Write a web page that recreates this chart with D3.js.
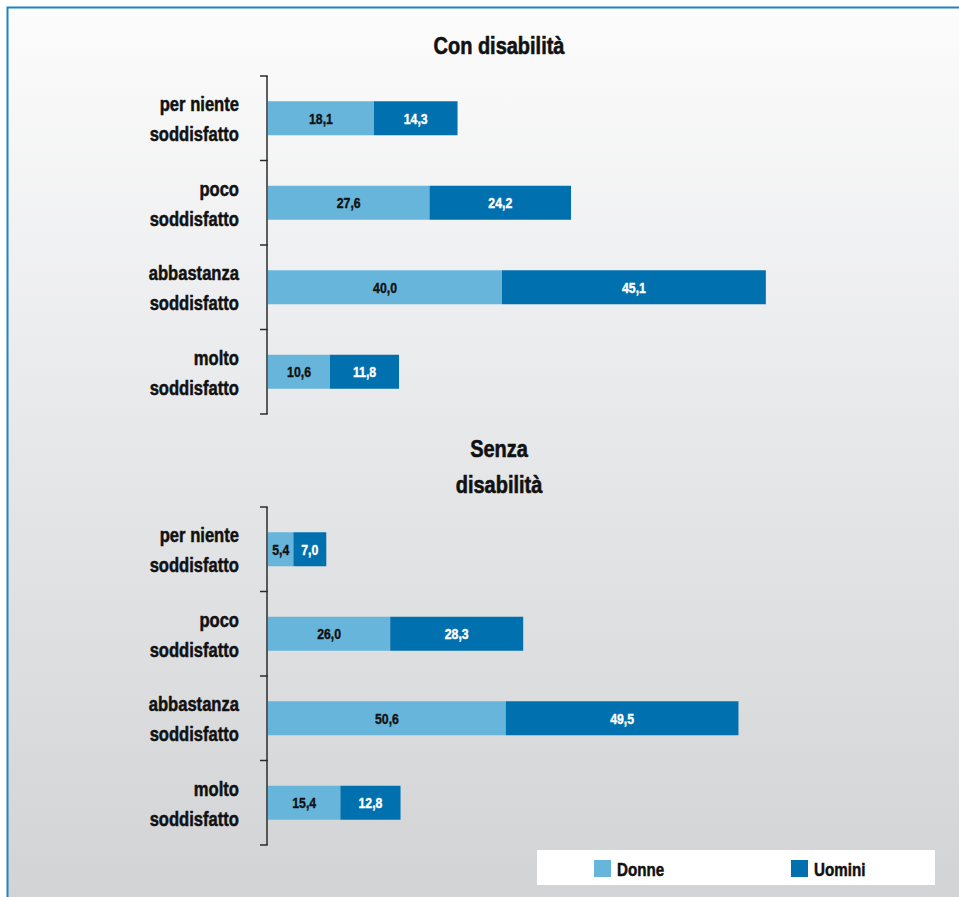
<!DOCTYPE html>
<html>
<head>
<meta charset="utf-8">
<script src="https://cdn.jsdelivr.net/npm/d3@7"></script>
<style>
  html, body { margin: 0; padding: 0; background: #fff; overflow: hidden; }
  svg { display: block; }
  text { font-family: "Liberation Sans", Arial, sans-serif; font-weight: bold; }
</style>
</head>
<body>
<svg id="chart" width="959" height="897"></svg>
<script>
// Soddisfazione: quote percentuali per genere
const categories = [
  ["per niente", "soddisfatto"],
  ["poco", "soddisfatto"],
  ["abbastanza", "soddisfatto"],
  ["molto", "soddisfatto"]
];
const seriesNames = ["Donne", "Uomini"];
const conDonne   = [18.1, 27.6, 40.0, 10.6];
const conUomini  = [14.3, 24.2, 45.1, 11.8];
const senzaDonne = [5.4, 26.0, 50.6, 15.4];
const senzaUomini = [7.0, 28.3, 49.5, 12.8];
const panelTitles = [["Con disabilità"], ["Senza", "disabilità"]];

const colors = { Donne: "#67b5db", Uomini: "#0071ae" };
const labelColors = { Donne: "#111111", Uomini: "#ffffff" };
const fmt = v => d3.format(".1f")(v).replace(".", ",");

const svg = d3.select("#chart");
const W = 959, H = 897;

// narrow heavy text: a regular bold face compressed horizontally, thickened by a thin outline
function narrowText(parent, x, y, lines, opts) {
  const g = parent.append("g").attr("transform", `translate(${x},${y}) scale(${opts.sx},1)`);
  g.append("text")
    .attr("text-anchor", opts.anchor)
    .attr("font-size", opts.size)
    .attr("fill", opts.fill)
    .attr("stroke", opts.fill)
    .attr("stroke-width", opts.weight || 0.5)
    .attr("stroke-linejoin", "round")
    .selectAll("tspan").data(lines).join("tspan")
    .attr("x", 0).attr("y", (d, i) => i * (opts.lineHeight || 0))
    .text(d => d);
  return g;
}

// background gradient
const defs = svg.append("defs");
const grad = defs.append("linearGradient").attr("id", "bg").attr("x1", 0).attr("y1", 0).attr("x2", 0).attr("y2", 1);
grad.append("stop").attr("offset", "0%").attr("stop-color", "#fcfcfc");
grad.append("stop").attr("offset", "50%").attr("stop-color", "#e6e7e9");
grad.append("stop").attr("offset", "100%").attr("stop-color", "#d2d3d5");
svg.append("rect").attr("width", W).attr("height", H).attr("fill", "#ffffff");
svg.append("rect").attr("x", 7.5).attr("y", 7.5).attr("width", W).attr("height", H)
  .attr("fill", "url(#bg)").attr("stroke", "#1b84c1").attr("stroke-width", 2);

const x0 = 268;
const panels = [
  { title: panelTitles[0], titleY: 54, donne: conDonne, uomini: conUomini, top: 76, bottom: 414, width: 585 },
  { title: panelTitles[1], titleY: 457, donne: senzaDonne, uomini: senzaUomini, top: 507, bottom: 845, width: 470 }
];

panels.forEach(p => {
  const g = svg.append("g");
  const x = d3.scaleLinear().domain([0, 100]).range([x0, x0 + p.width]);
  const y = d3.scaleBand().domain(d3.range(categories.length)).range([p.top, p.bottom]);

  // title
  narrowText(g, 499, p.titleY, p.title, { anchor: "middle", size: 23.5, fill: "#111", sx: 0.85, lineHeight: 36, weight: 0.6 });

  // axis line with category dividers
  const boundaries = d3.range(categories.length + 1).map(i => i < categories.length ? y(i) : p.bottom);
  g.append("line").attr("x1", 267).attr("x2", 267).attr("y1", p.top).attr("y2", p.bottom)
    .attr("stroke", "#2b2b2b").attr("stroke-width", 1.5);
  g.selectAll(".tick").data(boundaries).join("line")
    .attr("x1", 260).attr("x2", 267.7).attr("y1", d => d).attr("y2", d => d)
    .attr("stroke", "#2b2b2b").attr("stroke-width", 1.5);

  // category labels
  const bandCenter = i => y(i) + y.bandwidth() / 2;
  categories.forEach((lines, i) => {
    narrowText(g, 239, bandCenter(i) - 7, lines, { anchor: "end", size: 20, fill: "#111", sx: 0.83, lineHeight: 30 });
  });

  // stacked bars
  const rows = categories.map((c, i) => ({ i, Donne: p.donne[i], Uomini: p.uomini[i] }));
  const stacked = d3.stack().keys(seriesNames)(rows);
  const barH = 34;
  stacked.forEach(layer => {
    const key = layer.key;
    g.selectAll(".bar-" + key).data(layer).join("rect")
      .attr("x", d => x(d[0])).attr("width", d => x(d[1]) - x(d[0]))
      .attr("y", d => bandCenter(d.data.i) - barH / 2).attr("height", barH)
      .attr("fill", colors[key]);
    layer.forEach(d => {
      narrowText(g, (x(d[0]) + x(d[1])) / 2, bandCenter(d.data.i) + 5.5, [fmt(d.data[key])],
        { anchor: "middle", size: 15, fill: labelColors[key], sx: 0.82, weight: 0.4 });
    });
  });
});

// legend
const lg = svg.append("g");
lg.append("rect").attr("x", 537).attr("y", 850).attr("width", 398).attr("height", 35).attr("fill", "#ffffff");
const legendX = [594, 791];
seriesNames.forEach((s, i) => {
  lg.append("rect").attr("x", legendX[i]).attr("y", 860).attr("width", 17).attr("height", 17).attr("fill", colors[s]);
  narrowText(lg, legendX[i] + 23, 876, [s], { anchor: "start", size: 18.5, fill: "#111", sx: 0.82 });
});
</script>
</body>
</html>
